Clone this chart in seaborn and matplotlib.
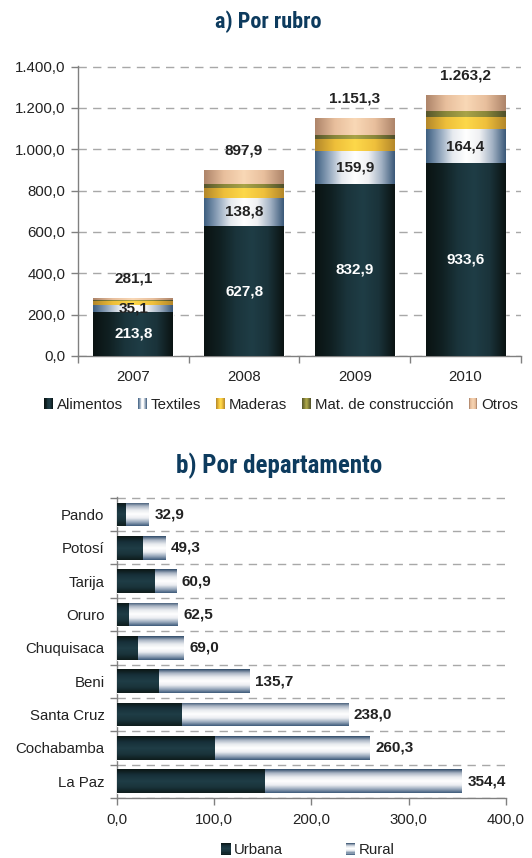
import numpy as np
import matplotlib
matplotlib.use("Agg")
import matplotlib.pyplot as plt
from matplotlib.colors import LinearSegmentedColormap
from matplotlib.patches import Rectangle, Patch
from matplotlib.legend_handler import HandlerBase
import seaborn as sns

# a) Exports by sector (millions), stacked per year
years = ["2007", "2008", "2009", "2010"]
rubros = ["Alimentos", "Textiles", "Maderas", "Mat. de construcción", "Otros"]
alimentos = [213.8, 627.8, 832.9, 933.6]
textiles = [35.1, 138.8, 159.9, 164.4]
maderas = [16.2, 48.3, 56.5, 58.2]
mat_construccion = [4.0, 18.0, 22.0, 27.0]
otros = [12.0, 65.0, 80.0, 80.0]
y_ticks_top = [0, 200, 400, 600, 800, 1000, 1200, 1400]

# b) By department, urban / rural split
departamentos = ["Pando", "Potosí", "Tarija", "Oruro", "Chuquisaca",
                 "Beni", "Santa Cruz", "Cochabamba", "La Paz"]
urbana = [9.5, 26.6, 39.2, 12.7, 21.8, 42.7, 67.0, 101.1, 151.9]
rural = [23.4, 22.7, 21.7, 49.8, 47.2, 93.0, 171.0, 159.2, 202.5]
x_ticks_bottom = [0, 100, 200, 300, 400]

# colour ramps for the shaded (cylinder-like) bars
ramps = {
    "Alimentos": ["#0a1312", "#102022", "#1a343b", "#1f3d46", "#1a333a", "#0a1312"],
    "Textiles": ["#3d5e80", "#8ea3ba", "#e6eaef", "#ffffff", "#f0f1f3", "#a2b2c4", "#3a5878"],
    "Maderas": ["#b3872a", "#eebf3a", "#fdd84a", "#efc03c", "#b3872a"],
    "Mat. de construcción": ["#55552c", "#8a873a", "#a9a448", "#8a873a", "#4f4f2a"],
    "Otros": ["#ad8469", "#e8bf9d", "#f9d8b6", "#e8bf9d", "#ad8469"],
    "Urbana": ["#0e1c1c", "#1a343b", "#1f3d46", "#17303a", "#0b1513"],
    "Rural": ["#3b5878", "#9aaabd", "#eceef2", "#ffffff", "#e8ebef", "#aab5c4", "#2c4866"],
}
mid = {k: v[len(v) // 2] for k, v in ramps.items()}

TITLE = "#0d3b5e"
TXT = "#222222"
GRID = "#a8a8a8"
SPINE = "#808080"
TICK_FS = 10.8
VAL_FS = 11


def es_num(v):
    s = f"{v:,.1f}"
    return s.replace(",", "_").replace(".", ",").replace("_", ".")


def shade(ax, patch, colors, vertical=False):
    x0, y0, x1, y1 = patch.get_bbox().extents
    cmap = LinearSegmentedColormap.from_list("ramp", colors)
    if vertical:
        arr = np.linspace(0, 1, 256)[:, None]
        if ax.yaxis_inverted():
            ext = [x0, x1, y1, y0]
        else:
            ext = [x0, x1, y0, y1]
    else:
        arr = np.linspace(0, 1, 256)[None, :]
        ext = [x0, x1, y0, y1]
    im = ax.imshow(arr, cmap=cmap, extent=ext, origin="lower", aspect="auto",
                   interpolation="bilinear", zorder=patch.get_zorder() + 0.01)
    im.set_clip_path(patch)


class RampHandler(HandlerBase):
    def __init__(self, colors, vertical=False, n=11):
        super().__init__()
        self.cmap = LinearSegmentedColormap.from_list("ramp", colors)
        self.vertical = vertical
        self.n = n

    def create_artists(self, legend, orig_handle, xdescent, ydescent,
                       width, height, fontsize, trans):
        arts = []
        for k in range(self.n):
            c = self.cmap((k + 0.5) / self.n)
            if self.vertical:
                r = Rectangle((-xdescent, -ydescent + height * k / self.n),
                              width, height / self.n, fc=c, ec="none", transform=trans)
            else:
                r = Rectangle((-xdescent + width * k / self.n, -ydescent),
                              width / self.n, height, fc=c, ec="none", transform=trans)
            arts.append(r)
        return arts


sns.set_style("white")
plt.rcParams["font.family"] = ["Liberation Sans", "DejaVu Sans"]
title_family = ["Roboto Condensed", "Liberation Sans Narrow", "Lato", "DejaVu Sans"]

fig = plt.figure(figsize=(5.32, 8.58), dpi=100)
ax1 = fig.add_axes([0.1466, 0.5851, 0.8327, 0.3380])
ax2 = fig.add_axes([0.2199, 0.0699, 0.7312, 0.3508])

# ---------- a) Por rubro ----------
series = [alimentos, textiles, maderas, mat_construccion, otros]
base = np.zeros(len(years))
for name, vals in zip(rubros, series):
    n0 = len(ax1.patches)
    sns.barplot(x=years, y=vals, order=years, color=mid[name], saturation=1,
                width=0.72, bottom=base.copy(), errorbar=None, ax=ax1, zorder=3)
    for p in ax1.patches[n0:]:
        shade(ax1, p, ramps[name])
    base = base + np.array(vals)

totals_top = [round(t, 1) for t in base]
for i in range(len(years)):
    ax1.text(i, alimentos[i] / 2, es_num(alimentos[i]), ha="center", va="center",
             color="white", fontsize=VAL_FS, fontweight="bold", zorder=6)
    ax1.text(i, alimentos[i] + textiles[i] / 2, es_num(textiles[i]), ha="center",
             va="center", color=TXT, fontsize=VAL_FS, fontweight="bold", zorder=6)
    ax1.annotate(es_num(totals_top[i]), (i, totals_top[i]), xytext=(0, 14),
                 textcoords="offset points", ha="center", va="center",
                 color=TXT, fontsize=VAL_FS, fontweight="bold", zorder=6)

ax1.set_xlim(-0.5, len(years) - 0.5)
ax1.set_ylim(0, 1403)
ax1.set_yticks(y_ticks_top)
ax1.set_yticklabels([es_num(v) for v in y_ticks_top])
ax1.set_xticks(range(len(years)))
ax1.set_xticklabels(years)
ax1.set_xticks(np.arange(-0.5, len(years)), minor=True)
ax1.set_xlabel("")
ax1.set_ylabel("")
ax1.grid(axis="y", color=GRID, linestyle=(0, (6, 4.5)), linewidth=1.0, zorder=0)
ax1.set_axisbelow(True)
for s in ["top", "right"]:
    ax1.spines[s].set_visible(False)
for s in ["left", "bottom"]:
    ax1.spines[s].set_color(SPINE)
    ax1.spines[s].set_linewidth(1.0)
ax1.tick_params(axis="y", which="major", length=5, width=1, color=SPINE,
                direction="out", left=True, pad=4, labelsize=TICK_FS, labelcolor=TXT)
ax1.tick_params(axis="x", which="major", length=0, pad=10, labelsize=TICK_FS, labelcolor=TXT)
ax1.tick_params(axis="x", which="minor", length=5, width=1, color=SPINE,
                direction="out", bottom=True)

fig.text(0.505, 0.9745, "a) Por rubro", ha="center", va="center", fontsize=16,
         fontweight="bold", color=TITLE, family=title_family)

handles = [Patch(label=n) for n in rubros]
hmap = {h: RampHandler(ramps[n]) for h, n in zip(handles, rubros)}
fig.legend(handles=handles, labels=rubros, handler_map=hmap, loc="center",
           bbox_to_anchor=(0.529, 0.528), ncol=5, frameon=False, fontsize=TICK_FS,
           handlelength=0.55, handleheight=0.75, handletextpad=0.3,
           columnspacing=1.0, borderpad=0, borderaxespad=0, labelcolor=TXT)

# ---------- b) Por departamento ----------
n0 = len(ax2.patches)
sns.barplot(x=urbana, y=departamentos, order=departamentos, orient="h",
            color=mid["Urbana"], saturation=1, width=0.71, errorbar=None,
            ax=ax2, zorder=3)
for p in ax2.patches[n0:]:
    shade(ax2, p, ramps["Urbana"], vertical=True)
n0 = len(ax2.patches)
sns.barplot(x=rural, y=departamentos, order=departamentos, orient="h",
            color=mid["Rural"], saturation=1, width=0.71, left=list(urbana),
            errorbar=None, ax=ax2, zorder=3)
for p in ax2.patches[n0:]:
    shade(ax2, p, ramps["Rural"], vertical=True)

for i, (u, r) in enumerate(zip(urbana, rural)):
    tot = round(u + r, 1)
    ax2.annotate(es_num(tot), (tot, i), xytext=(4, 0), textcoords="offset points",
                 ha="left", va="center", color=TXT, fontsize=VAL_FS,
                 fontweight="bold", zorder=6)

n = len(departamentos)
ax2.set_xlim(0, 400)
ax2.set_ylim(n - 0.5, -0.52)
ax2.set_xticks(x_ticks_bottom)
ax2.set_xticklabels([es_num(v) for v in x_ticks_bottom])
ax2.set_yticks(range(n))
ax2.set_yticklabels(departamentos)
ax2.set_yticks(np.arange(-0.5, n), minor=True)
ax2.set_xlabel("")
ax2.set_ylabel("")
ax2.grid(False)
ax2.grid(axis="y", which="minor", color=GRID, linestyle=(0, (6, 4.5)),
         linewidth=1.0, zorder=0)
ax2.set_axisbelow(True)
for s in ["top", "right"]:
    ax2.spines[s].set_visible(False)
for s in ["left", "bottom"]:
    ax2.spines[s].set_color(SPINE)
    ax2.spines[s].set_linewidth(1.0)
ax2.tick_params(axis="x", which="major", length=5, width=1, color=SPINE,
                direction="out", bottom=True, pad=6, labelsize=TICK_FS, labelcolor=TXT)
ax2.tick_params(axis="y", which="major", length=0, pad=9, labelsize=TICK_FS, labelcolor=TXT)
ax2.tick_params(axis="y", which="minor", length=5, width=1, color=SPINE,
                direction="out", left=True)

fig.text(0.524, 0.457, "b) Por departamento", ha="center", va="center",
         fontsize=18, fontweight="bold", color=TITLE, family=title_family)

h_u, h_r = Patch(label="Urbana"), Patch(label="Rural")
fig.legend(handles=[h_u, h_r], labels=["Urbana", "Rural"],
           handler_map={h_u: RampHandler(ramps["Urbana"], vertical=True),
                        h_r: RampHandler(ramps["Rural"], vertical=True)},
           loc="center", bbox_to_anchor=(0.578, 0.0093), ncol=2, frameon=False,
           fontsize=TICK_FS, handlelength=0.65, handleheight=0.8, handletextpad=0.2,
           columnspacing=4.2, borderpad=0, borderaxespad=0, labelcolor=TXT)

fig.savefig("out.png", dpi=100)
